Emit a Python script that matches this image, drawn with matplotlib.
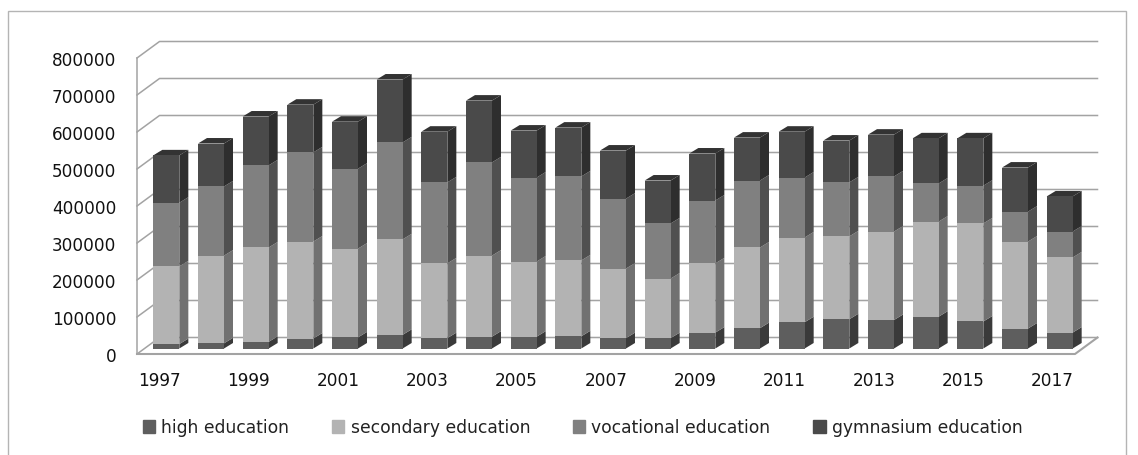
import numpy as np
import matplotlib.pyplot as plt
from matplotlib.patches import Patch, Rectangle

years = list(range(1997, 2018))
high = np.array([12, 14, 18, 27, 30, 37, 28, 32, 32, 33, 28, 28, 43, 55, 71, 79, 77, 86, 73, 54, 43]) * 1000
secondary = np.array([210, 237, 255, 262, 240, 258, 202, 219, 203, 205, 188, 161, 187, 218, 229, 224, 239, 257, 265, 235, 203]) * 1000
vocational = np.array([172, 187, 222, 241, 216, 262, 219, 252, 227, 227, 189, 149, 170, 181, 162, 146, 149, 103, 102, 81, 70]) * 1000
gymnasium = np.array([128, 116, 132, 129, 127, 170, 137, 167, 127, 132, 130, 116, 127, 116, 124, 113, 113, 122, 128, 119, 95]) * 1000

names = ['high education', 'secondary education', 'vocational education', 'gymnasium education']
series = [high, secondary, vocational, gymnasium]
front = ['#5e5e5e', '#b3b3b3', '#808080', '#4a4a4a']
side = ['#3a3a3a', '#717171', '#505050', '#2e2e2e']

W, H = 1138, 456
plt.rcParams['font.family'] = 'DejaVu Sans'
fig = plt.figure(figsize=(W / 100, H / 100), dpi=100)
fig.add_artist(Rectangle((8 / W, -0.01), (1126 - 8) / W, 1 - 12 / H + 0.01, transform=fig.transFigure,
                         fill=False, ec='#b4b4b4', lw=1.0))

# front plane of the fake 3d box is the axes itself
ax = fig.add_axes([137 / W, 1 - 355 / H, (1075 - 137) / W, (355 - 59) / H])
ax.set_xlim(-0.5, 20.5)
ax.set_ylim(0, 800000)

# pixels -> data units
px = 21 / (1075 - 137)
py = 800000 / (355 - 59)

wall_dx, wall_dy = 22.5 * px, 16.5 * py
bar_dx, bar_dy = 7 * px, 5.5 * py
depth_x, depth_y = 9 * px, 5.5 * py
bar_w = 26 * px

grid = '#a3a3a3'
ticks = np.arange(0, 800001, 100000)
for v in ticks:
    ax.plot([-0.5, -0.5 + wall_dx, 20.5 + wall_dx], [v, v + wall_dy, v + wall_dy],
            color=grid, lw=1.1, clip_on=False, zorder=1)
ax.plot([-0.5, -0.5], [0, 800000], color=grid, lw=1.1, clip_on=False, zorder=1)
ax.plot([-0.5, 20.5, 20.5 + wall_dx], [0, 0, wall_dy], color=grid, lw=1.5, clip_on=False, zorder=1)

x = np.arange(len(years))
bottom = np.zeros(len(years))
for vals, fc, sc, name in zip(series, front, side, names):
    ax.bar(x + bar_dx, vals, bar_w, bottom=bottom + bar_dy, color=fc, zorder=3, clip_on=False, label=name)
    for xi, b, v in zip(x, bottom, vals):
        r = xi + bar_dx + bar_w / 2
        y0 = b + bar_dy
        ax.fill([r, r + depth_x, r + depth_x, r], [y0, y0 + depth_y, y0 + v + depth_y, y0 + v],
                color=sc, lw=0, zorder=2.5, clip_on=False)
    bottom = bottom + vals

# top cap of the stack
for xi, t in zip(x, bottom):
    l = xi + bar_dx - bar_w / 2
    y0 = t + bar_dy
    ax.fill([l, l + bar_w, l + bar_w + depth_x, l + depth_x], [y0, y0, y0 + depth_y, y0 + depth_y],
            color='#333333', lw=0, zorder=2.5, clip_on=False)

for s in ax.spines.values():
    s.set_visible(False)
ax.set_yticks(ticks)
ax.set_yticklabels([str(v) for v in ticks], fontsize=12.2, color='#111111')
ax.set_xticks(x[::2])
ax.set_xticklabels([str(y) for y in years[::2]], fontsize=12.2, color='#111111')
ax.tick_params(length=0)
ax.tick_params(axis='y', pad=15)
ax.tick_params(axis='x', pad=12.5)

handles = [Patch(color=c, label=n) for c, n in zip(front, names)]
fig.legend(handles=handles, ncol=4, loc='center left', bbox_to_anchor=(143 / W, 1 - 428.5 / H), frameon=False,
           fontsize=12.3, handlelength=0.72, handleheight=0.72, handletextpad=0.36, columnspacing=2.5,
           labelcolor='#222222', borderpad=0, borderaxespad=0)

fig.savefig('out.png', dpi=100)
plt.close(fig)
